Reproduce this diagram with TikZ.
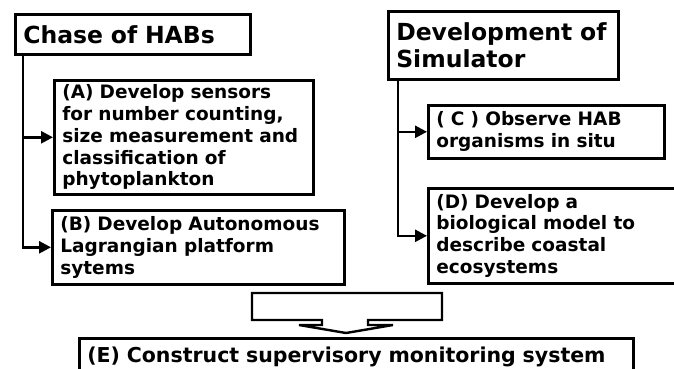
\documentclass[tikz,border=0pt]{standalone}
\usepackage{fontspec}
\setmainfont{DejaVu Sans}
\usetikzlibrary{arrows.meta}
\tikzset{
  box/.style={draw,line width=2.6pt,anchor=north west,align=left,inner xsep=8pt,inner ysep=0pt,
    font=\fontsize{18.5}{21.7}\selectfont\bfseries},
  headbox/.style={box,font=\fontsize{23.5}{27}\selectfont\bfseries},
  conn/.style={line width=2.5pt,-{Triangle[length=12pt,width=12pt]}},
}
\begin{document}
\begin{tikzpicture}[x=1pt,y=-1pt]
  \useasboundingbox (0,0) rectangle (674,369);
  \node[headbox,text width=219pt,minimum height=40pt] (chase) at (14,13) {Chase of HABs};
  \node[headbox,text width=214pt,minimum height=68pt] (sim) at (387,10) {Development~of\\Simulator};
  \node[box,text width=243pt,minimum height=114pt] (A) at (53,79)
    {(A) Develop sensors\\for number counting,\\size measurement and\\classification of\\phytoplankton};
  \node[box,text width=276pt,minimum height=74pt] (B) at (51,209)
    {(B) Develop Autonomous\\Lagrangian platform\\sytems};
  \node[box,text width=220pt,minimum height=53pt] (C) at (427,104) {( C ) Observe HAB\\organisms in situ};
  \node[box,text width=260pt,minimum height=95pt] (D) at (427,187)
    {(D) Develop a\\biological model to\\describe coastal\\ecosystems};
  \node[box,text width=538pt,minimum height=38pt,font=\fontsize{20.5}{24}\selectfont\bfseries] (E) at (78,337)
    {(E) Construct supervisory monitoring system};
  % branch lines
  \coordinate (chaseline) at ([xshift=9pt]chase.south west);
  \coordinate (simline) at ([xshift=11pt]sim.south west);
  \draw[conn] (chaseline) |- (B.west);
  \draw[conn] (chaseline |- A.west) -- (A.west);
  \draw[conn] (simline) |- (D.west);
  \draw[conn] (simline |- C.west) -- (C.west);
  % block arrow
  \draw[line width=2.4pt] (252,293) -- (442,293) -- (442,320) -- (368,320) -- (368,325) -- (393,325)
    -- (346,333) -- (299,325) -- (322,325) -- (322,320) -- (252,320) -- cycle;
\end{tikzpicture}
\end{document}
